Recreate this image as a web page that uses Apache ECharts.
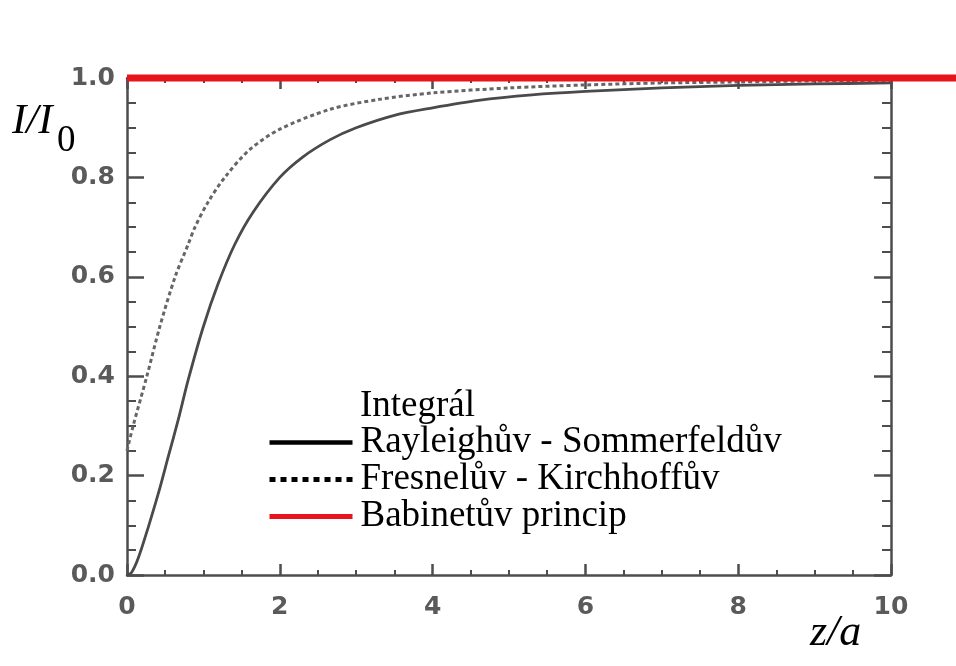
<!DOCTYPE html>
<html>
<head>
<meta charset="utf-8">
<script src="https://cdn.jsdelivr.net/npm/echarts@6/dist/echarts.min.js"></script>
<style>
  html, body { margin: 0; padding: 0; background: #ffffff; }
  #chart { width: 956px; height: 666px; }
</style>
</head>
<body>
<div id="chart"></div>
<script>
// Axis ticks
const xTicks = [0, 2, 4, 6, 8, 10];
const yTicks = [0.0, 0.2, 0.4, 0.6, 0.8, 1.0];

// Rayleigh–Sommerfeld integral: on-axis intensity I/I0 vs z/a
const rsZ = [0, 0.06, 0.15, 0.28, 0.41, 0.54, 0.67, 0.80, 1.0, 1.19, 1.41, 1.65, 2.0, 2.3, 2.66, 3.0, 3.5, 4.0, 4.6, 5.3, 6.0, 7.0, 8.0, 9.0, 10.0];
const rsI = [0, 0.005, 0.035, 0.097, 0.164, 0.238, 0.312, 0.392, 0.50, 0.585, 0.665, 0.73, 0.80, 0.841, 0.876, 0.90, 0.925, 0.94, 0.955, 0.966, 0.973, 0.98, 0.985, 0.988, 0.99];

// Fresnel–Kirchhoff integral
const fkZ = [0, 0.08, 0.26, 0.43, 0.63, 0.80, 0.89, 1.06, 1.28, 1.6, 2.0, 2.66, 3.3, 4.0, 5.0, 6.0, 7.0, 8.0, 9.0, 10.0];
const fkI = [0.25, 0.30, 0.40, 0.50, 0.60, 0.665, 0.70, 0.75, 0.80, 0.855, 0.897, 0.937, 0.957, 0.97, 0.98, 0.986, 0.99, 0.992, 0.994, 0.995];

// Babinet's principle: constant intensity, running on past the frame
const babZ = [0, 10.85];
const babI = [1, 1];

const seriesNames = ['Rayleighův - Sommerfeldův', 'Fresnelův - Kirchhoffův', 'Babinetův princip'];

const zip = (a, b) => a.map((v, i) => [v, b[i]]);

const axisColor = '#4d4d4d';
const labelStyle = {
  fontFamily: 'DejaVu Sans',
  fontWeight: 'bold',
  fontSize: 25,
  color: '#5a5a5a'
};

function xAxisDef(pos, showLabel) {
  return {
    type: 'value', gridIndex: 0, position: pos, min: 0, max: 10, interval: 2,
    axisLine: { show: true, onZero: false, lineStyle: { color: axisColor, width: 2.5 } },
    axisTick: { show: true, inside: true, length: 11, lineStyle: { color: axisColor, width: 2.5 } },
    minorTick: { show: true, splitNumber: 4, length: 5, lineStyle: { color: axisColor, width: 2 } },
    splitLine: { show: false },
    axisLabel: Object.assign({ show: showLabel, margin: 20,
      formatter: v => xTicks.includes(v) ? String(v) : '' }, labelStyle)
  };
}
function yAxisDef(pos, showLabel) {
  return {
    type: 'value', gridIndex: 0, position: pos, min: 0, max: 1, interval: 0.2,
    axisLine: { show: true, onZero: false, lineStyle: { color: axisColor, width: 2.5 } },
    axisTick: { show: true, inside: true, length: 17, lineStyle: { color: axisColor, width: 2.5 } },
    minorTick: { show: true, splitNumber: 4, length: 9, lineStyle: { color: axisColor, width: 2 } },
    splitLine: { show: false },
    axisLabel: Object.assign({ show: showLabel, margin: 12,
      formatter: v => yTicks.some(t => Math.abs(t - v) < 1e-9) ? v.toFixed(1) : '' }, labelStyle)
  };
}

// Hidden axes for the wide overlay grid (same scale, extended to the page edge)
const hiddenAxis = { show: false, splitLine: { show: false } };

const chart = echarts.init(document.getElementById('chart'), null, { renderer: 'canvas' });

chart.setOption({
  backgroundColor: '#ffffff',
  animation: false,
  grid: [
    { left: 127, right: 65, top: 78, bottom: 91, containLabel: false },
    { left: 127, right: 0, top: 78, bottom: 91, containLabel: false }
  ],
  xAxis: [
    xAxisDef('bottom', true), xAxisDef('top', false),
    Object.assign({ type: 'value', gridIndex: 1, min: 0, max: 10.85 }, hiddenAxis)
  ],
  yAxis: [
    yAxisDef('left', true), yAxisDef('right', false),
    Object.assign({ type: 'value', gridIndex: 1, min: 0, max: 1 }, hiddenAxis)
  ],
  legend: {
    orient: 'vertical',
    left: 267,
    top: 424,
    padding: 0,
    itemGap: 0,
    itemWidth: 83,
    itemHeight: 14,
    selectedMode: false,
    textStyle: {
      fontFamily: 'Liberation Serif',
      fontSize: 37,
      color: '#000000',
      lineHeight: 35,
      padding: [0, 0, 0, 3]
    },
    data: [
      { name: seriesNames[0], itemStyle: { opacity: 0 }, lineStyle: { color: '#000000', width: 4.5, type: 'solid' } },
      { name: seriesNames[1], itemStyle: { opacity: 0 }, lineStyle: { color: '#000000', width: 5, type: [6, 5] } },
      { name: seriesNames[2], itemStyle: { opacity: 0 }, lineStyle: { color: '#e8141c', width: 5, type: 'solid' } }
    ]
  },
  graphic: [
    { type: 'text', left: 360, top: 388, style: { text: 'Integrál', font: '37px "Liberation Serif"', fill: '#000' } },
    { type: 'text', left: 12, top: 100, style: { text: 'I/I', font: 'italic 43px "Liberation Serif"', fill: '#000' } },
    { type: 'text', left: 57, top: 123, style: { text: '0', font: '37px "Liberation Serif"', fill: '#000' } },
    { type: 'text', left: 810, top: 611, style: { text: 'z/a', font: 'italic 44px "Liberation Serif"', fill: '#000' } }
  ],
  series: [
    {
      name: seriesNames[0], type: 'line', symbol: 'none', smooth: 0.3,
      xAxisIndex: 0, yAxisIndex: 0,
      data: zip(rsZ, rsI),
      lineStyle: { color: '#4a4a4a', width: 2.8 },
      itemStyle: { color: '#000000' },
      z: 3
    },
    {
      name: seriesNames[1], type: 'line', symbol: 'none', smooth: 0.3,
      xAxisIndex: 0, yAxisIndex: 0,
      data: zip(fkZ, fkI),
      lineStyle: { color: '#666666', width: 3, type: [4, 3] },
      itemStyle: { color: '#000000' },
      z: 3
    },
    {
      name: seriesNames[2], type: 'line', symbol: 'none',
      xAxisIndex: 2, yAxisIndex: 2,
      data: zip(babZ, babI),
      clip: false,
      lineStyle: { color: '#e8141c', width: 7 },
      itemStyle: { color: '#e8141c' },
      z: 5
    }
  ]
});
</script>
</body>
</html>
